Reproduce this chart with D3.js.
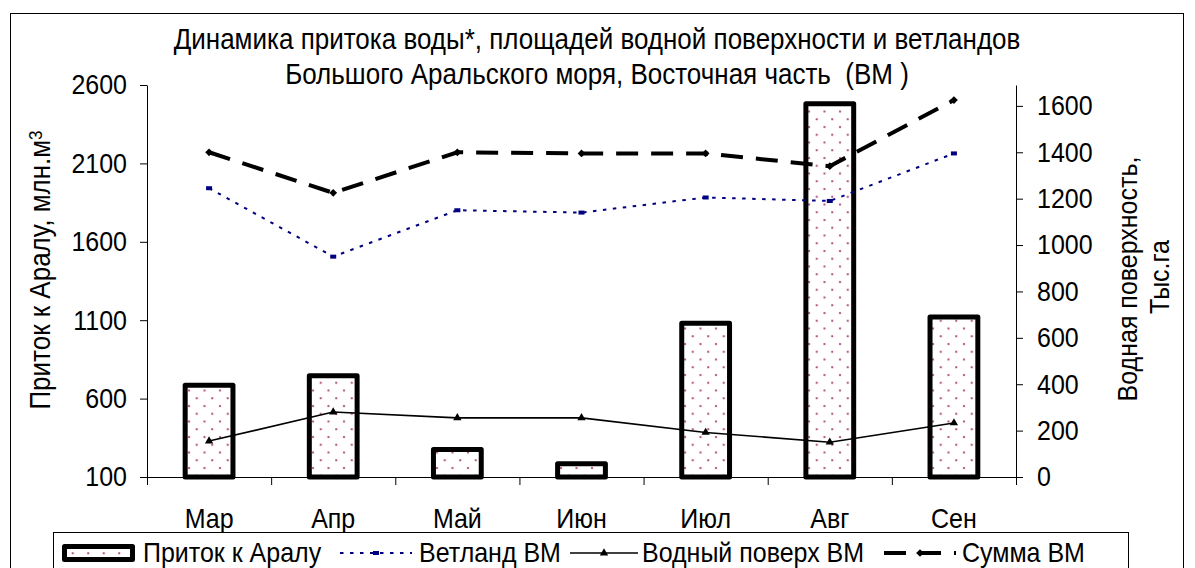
<!DOCTYPE html>
<html>
<head>
<meta charset="utf-8" />
<title>Динамика притока воды</title>
<style>
  body { margin: 0; background: #fff; }
  text { font-family: "Liberation Sans", Arial, sans-serif; fill: #000; }
  .axis path, .axis line { stroke: #000; }
</style>
</head>
<body>
<svg id="chart" width="1195" height="568"></svg>
<script src="https://d3js.org/d3.v7.min.js"></script>
<script>
// ---------------- data ----------------
var months = ["Мар", "Апр", "Май", "Июн", "Июл", "Авг", "Сен"];
var inflow = [685, 745, 275, 185, 1080, 2480, 1120];          // Приток к Аралу, млн.м3 (left axis)
var wetland = [1245, 950, 1150, 1140, 1205, 1190, 1395];      // Ветланд ВМ (right axis)
var waterSurface = [155, 280, 255, 255, 192, 150, 233];       // Водный поверх ВМ (right axis)
var totalBM = [1400, 1225, 1400, 1395, 1395, 1340, 1625];     // Сумма ВМ (right axis)
var leftTicks = [100, 600, 1100, 1600, 2100, 2600];
var rightTicks = [0, 200, 400, 600, 800, 1000, 1200, 1400, 1600];

// ---------------- layout ----------------
var svg = d3.select("#chart");
var plot = { left: 147, right: 1016, top: 85, bottom: 477 };
var SY = 1.1; // the source text is a bit taller than it is wide

var x = d3.scaleBand().domain(months).range([plot.left, plot.right])
  .paddingInner(0.615).paddingOuter(0.3075);
var xc = function(m) { return x(m) + x.bandwidth() / 2; };
var yL = d3.scaleLinear().domain([100, 2600]).range([plot.bottom, plot.top]);
var yR = d3.scaleLinear().domain([0, 1690]).range([plot.bottom, plot.top]);

// dotted fill for the bars
var defs = svg.append("defs");
var pat = defs.append("pattern").attr("id", "dots")
  .attr("patternUnits", "userSpaceOnUse").attr("width", 15.5).attr("height", 15.5);
pat.append("rect").attr("width", 15.5).attr("height", 15.5).attr("fill", "#fff");
pat.append("circle").attr("cx", 3).attr("cy", 3).attr("r", 1.15).attr("fill", "#b04a80");
pat.append("circle").attr("cx", 10.75).attr("cy", 10.75).attr("r", 1.15).attr("fill", "#b04a80");

// outer frame
svg.append("rect").attr("x", 10.5).attr("y", 13.5).attr("width", 1173).attr("height", 600)
  .attr("fill", "#fff").attr("stroke", "#000").attr("stroke-width", 1);

function stretched(sel, tx, ty, rot) {
  return sel.attr("transform", "translate(" + tx + "," + ty + ")" + (rot ? " rotate(" + rot + ")" : "") + " scale(1," + SY + ")");
}

// title
var titleLines = ["Динамика притока воды*, площадей водной поверхности и ветландов",
                  "Большого Аральского моря, Восточная часть  (ВМ )"];
titleLines.forEach(function(t, i) {
  stretched(svg.append("text"), 597, 49 + i * 35)
    .attr("text-anchor", "middle").style("font-size", "26px").style("white-space", "pre").text(t);
});

// ---------------- axes ----------------
var gL = svg.append("g").attr("class", "axis").attr("transform", "translate(" + plot.left + ",0)")
  .call(d3.axisLeft(yL).tickValues(leftTicks).tickFormat(d3.format("d"))
    .tickSize(7).tickSizeOuter(0).tickPadding(13));
gL.selectAll("text").style("font-size", "25px").attr("fill", "#000")
  .attr("transform", "scale(1," + SY + ")").attr("dy", "0.32em");

var gR = svg.append("g").attr("class", "axis").attr("transform", "translate(" + plot.right + ",0)")
  .call(d3.axisRight(yR).tickValues(rightTicks).tickFormat(d3.format("d"))
    .tickSize(7).tickSizeOuter(0).tickPadding(14));
gR.selectAll("text").style("font-size", "25px").attr("fill", "#000")
  .attr("transform", "scale(1," + SY + ")");

var xb = d3.scaleLinear().domain([0, months.length]).range([plot.left, plot.right]);
svg.append("g").attr("class", "axis").attr("transform", "translate(0," + plot.bottom + ")")
  .call(d3.axisBottom(xb).tickValues(d3.range(months.length + 1)).tickSize(8).tickSizeOuter(0).tickFormat(""));

svg.selectAll(".mlabel").data(months).enter().append("text").attr("class", "mlabel")
  .each(function(m) { stretched(d3.select(this), xc(m), 528); })
  .attr("text-anchor", "middle").style("font-size", "25px").text(function(m) { return m; });

// axis titles
var lt = stretched(svg.append("text"), 50, 270, -90).attr("text-anchor", "middle").style("font-size", "26px");
lt.append("tspan").text("Приток к Аралу, млн.м");
lt.append("tspan").attr("dy", "-0.45em").style("font-size", "17px").text("3");

stretched(svg.append("text"), 1137, 279, -90).attr("text-anchor", "middle").style("font-size", "25px")
  .text("Водная поверхность,");
stretched(svg.append("text"), 1169, 277, -90).attr("text-anchor", "middle").style("font-size", "25px")
  .text("Тыс.га");

// ---------------- bars ----------------
svg.append("g").selectAll("rect").data(months).enter().append("rect")
  .attr("x", function(m) { return x(m); })
  .attr("y", function(m, i) { return yL(inflow[i]); })
  .attr("width", x.bandwidth())
  .attr("height", function(m, i) { return yL(100) - yL(inflow[i]); })
  .attr("fill", "url(#dots)").attr("stroke", "#000").attr("stroke-width", 5)
  .attr("stroke-linejoin", "round");

// ---------------- lines ----------------
function drawLine(vals, color, width, dash) {
  var line = d3.line().x(function(d, i) { return xc(months[i]); }).y(function(d) { return yR(d); });
  return svg.append("path").datum(vals).attr("d", line).attr("fill", "none")
    .attr("stroke", color).attr("stroke-width", width).attr("stroke-dasharray", dash);
}
var tri = d3.symbol().type(d3.symbolTriangle).size(30);
var dia = d3.symbol().type(d3.symbolSquare).size(30);

drawLine(wetland, "#000080", 2, "3.5,6.5");
svg.append("g").selectAll("rect").data(wetland).enter().append("rect")
  .attr("x", function(d, i) { return xc(months[i]) - 3; })
  .attr("y", function(d) { return yR(d) - 2; })
  .attr("width", 6).attr("height", 4).attr("fill", "#000080");

drawLine(waterSurface, "#000", 1.6, null);
svg.append("g").selectAll("path").data(waterSurface).enter().append("path")
  .attr("d", tri).attr("fill", "#000")
  .attr("transform", function(d, i) { return "translate(" + xc(months[i]) + "," + yR(d) + ")"; });

drawLine(totalBM, "#000", 4, "22,13");
svg.append("g").selectAll("path").data(totalBM).enter().append("path")
  .attr("d", dia).attr("fill", "#000")
  .attr("transform", function(d, i) { return "translate(" + xc(months[i]) + "," + yR(d) + ") rotate(45)"; });

// ---------------- legend ----------------
var lg = svg.append("g");
lg.append("rect").attr("x", 53.5).attr("y", 532.5).attr("width", 1075).attr("height", 50)
  .attr("fill", "#fff").attr("stroke", "#000");
var ly = 553;
lg.append("rect").attr("x", 64.5).attr("y", 546.5).attr("width", 68).attr("height", 13)
  .attr("fill", "url(#dots)").attr("stroke", "#000").attr("stroke-width", 5).attr("stroke-linejoin", "round");

var legendItems = [
  { name: "Приток к Аралу", x0: null, tx: 143 },
  { name: "Ветланд ВМ", x0: 340, tx: 419 },
  { name: "Водный поверх ВМ", x0: 570, tx: 642 },
  { name: "Сумма ВМ", x0: 884, tx: 962 }
];
legendItems.forEach(function(it, k) {
  stretched(lg.append("text"), it.tx, ly + 9).style("font-size", "25px").text(it.name);
  if (k === 1) {
    lg.append("line").attr("x1", it.x0).attr("x2", it.x0 + 72).attr("y1", ly).attr("y2", ly)
      .attr("stroke", "#000080").attr("stroke-width", 2).attr("stroke-dasharray", "3.5,6.5");
    lg.append("rect").attr("x", it.x0 + 33).attr("y", ly - 2).attr("width", 6).attr("height", 4).attr("fill", "#000080");
  } else if (k === 2) {
    lg.append("line").attr("x1", it.x0).attr("x2", it.x0 + 68).attr("y1", ly).attr("y2", ly)
      .attr("stroke", "#000").attr("stroke-width", 1.6);
    lg.append("path").attr("d", tri).attr("transform", "translate(" + (it.x0 + 34) + "," + ly + ")");
  } else if (k === 3) {
    lg.append("line").attr("x1", it.x0).attr("x2", it.x0 + 72).attr("y1", ly).attr("y2", ly)
      .attr("stroke", "#000").attr("stroke-width", 4).attr("stroke-dasharray", "22,13");
    lg.append("path").attr("d", dia).attr("transform", "translate(" + (it.x0 + 36) + "," + ly + ") rotate(45)");
  }
});
</script>
</body>
</html>
